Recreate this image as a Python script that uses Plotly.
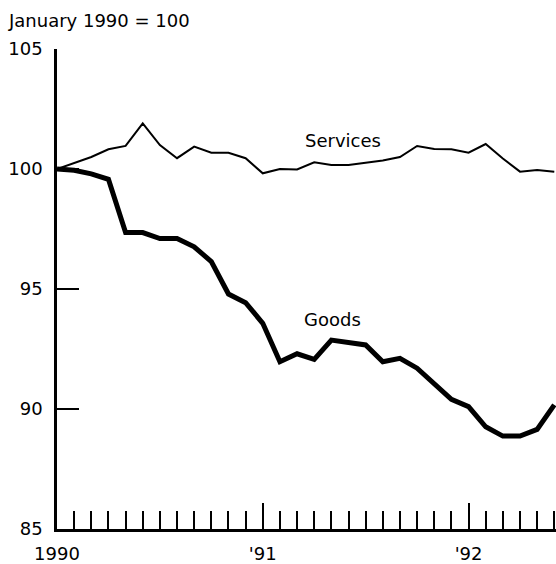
import plotly.graph_objects as go

# Months since January 1990 (0 = Jan 1990 ... 29 = Jun 1992)
months = list(range(30))

services = [100.0, 100.25, 100.5, 100.82, 100.96, 101.9, 101.0, 100.45, 100.93, 100.68,
            100.68, 100.45, 99.82, 100.0, 99.98, 100.28, 100.17, 100.17, 100.25, 100.35,
            100.5, 100.96, 100.83, 100.82, 100.68, 101.04, 100.44, 99.89, 99.96, 99.89]

goods = [100.0, 99.95, 99.8, 99.57, 97.35, 97.35, 97.1, 97.1, 96.76, 96.14,
         94.79, 94.43, 93.57, 91.97, 92.3, 92.07, 92.87, 92.76, 92.67, 91.97,
         92.11, 91.7, 91.07, 90.4, 90.1, 89.26, 88.87, 88.87, 89.15, 90.17]

year_tick_vals = [0, 12, 24]
year_tick_text = ["1990", "'91", "'92"]
y_tick_vals = [85, 90, 95, 100, 105]

FONT = "DejaVu Sans"

fig = go.Figure()
fig.add_trace(go.Scatter(x=months, y=services, mode="lines", cliponaxis=False,
                         line=dict(color="black", width=2), showlegend=False))
fig.add_trace(go.Scatter(x=months, y=goods, mode="lines", cliponaxis=False,
                         line=dict(color="black", width=5), showlegend=False))

fig.add_annotation(x=16.65, y=101.2, text="Services", showarrow=False,
                   font=dict(family=FONT, size=18, color="black"))
fig.add_annotation(x=16.06, y=93.71, text="Goods", showarrow=False,
                   font=dict(family=FONT, size=18, color="black"))

fig.update_layout(
    width=556, height=564,
    margin=dict(l=57, r=0, t=49, b=35, autoexpand=False),
    paper_bgcolor="white", plot_bgcolor="white",
    title=dict(text="January 1990 = 100", xref="container", yref="container",
               x=9/556, y=1-21/564, xanchor="left", yanchor="middle",
               font=dict(family=FONT, size=18, color="black")),
    xaxis=dict(range=[0, 29.1], showgrid=False, zeroline=False, automargin=False,
               showline=True, linecolor="black", linewidth=2.5,
               tickmode="array", tickvals=year_tick_vals, ticktext=year_tick_text,
               ticks="inside", ticklen=26, tickwidth=2, tickcolor="black",
               ticklabelstandoff=7,
               tickfont=dict(family=FONT, size=18, color="black"),
               minor=dict(dtick=1, tick0=0, ticks="inside", ticklen=18,
                          tickwidth=2, tickcolor="black", showgrid=False)),
    yaxis=dict(range=[85, 105], showgrid=False, zeroline=False, automargin=False,
               showline=True, linecolor="black", linewidth=2.5,
               tickmode="array", tickvals=y_tick_vals,
               ticks="inside", ticklen=22, tickwidth=2, tickcolor="black",
               ticklabelstandoff=8,
               tickfont=dict(family=FONT, size=18, color="black")),
)

fig.write_html("out.html", config={"displayModeBar": False})

# remove the browser's default page margin so the figure sits at the corner
with open("out.html", "r", encoding="utf-8") as f:
    html = f.read()
html = html.replace("<body>", '<body style="margin:0;overflow:hidden">', 1)
with open("out.html", "w", encoding="utf-8") as f:
    f.write(html)
